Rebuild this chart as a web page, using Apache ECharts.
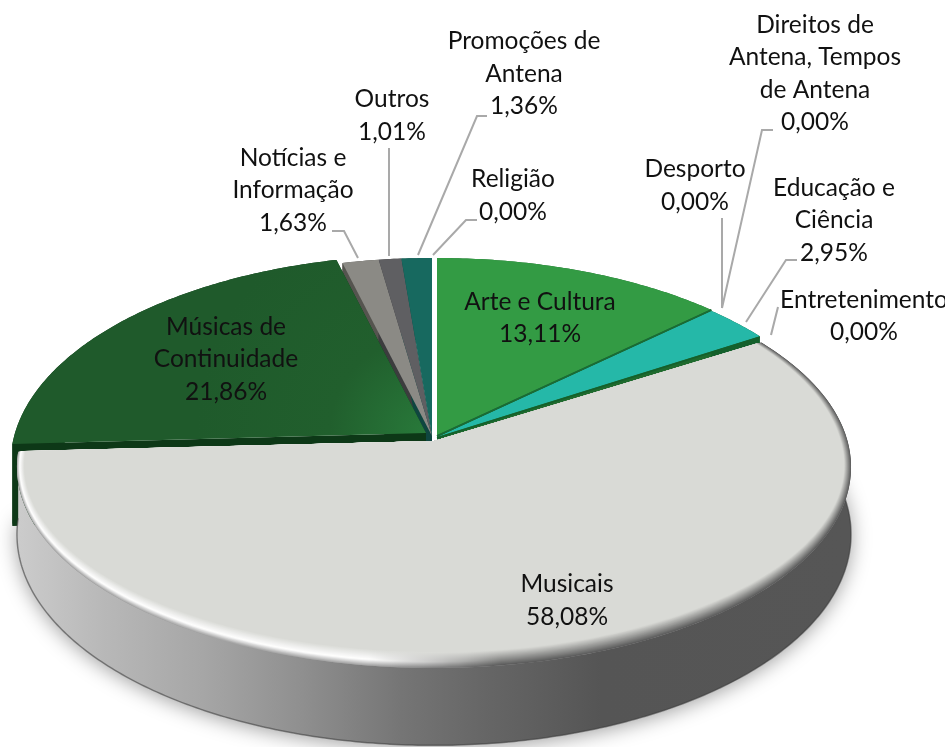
<!DOCTYPE html>
<html><head><meta charset="utf-8">
<style>html,body{margin:0;padding:0;background:#fff}#c{width:945px;height:747px}</style>
<script src="https://cdn.jsdelivr.net/npm/echarts@6/dist/echarts.min.js"></script>
</head><body><div id="c"></div>
<script>
const categories = ['Arte e Cultura','Desporto','Direitos de Antena, Tempos de Antena','Educação e Ciência','Entretenimento','Musicais','Músicas de Continuidade','Notícias e Informação','Outros','Promoções de Antena','Religião'];
const values = [13.11,0,0,2.95,0,58.08,21.86,1.63,1.01,1.36,0];
const labelNames = ['Arte e Cultura','Desporto','Direitos de\nAntena, Tempos\nde Antena','Educação e\nCiência','Entretenimento','Musicais','Músicas de\nContinuidade','Notícias e\nInformação','Outros','Promoções de\nAntena','Religião'];
const faceColors = ['#339b44','#1a6b35','#1a6b35','#25b8a8','#14602c','#d9dad6','#1f5a2b','#8b8a85','#5f5f62','#17695f','#ffffff'];
const sideColors = ['#1f6a2e','#1a6b35','#1a6b35','#14602c','#14602c','#8c8c8c','#0d3817','#55544f','#3c3c3e','#0f4640','#ffffff'];
const labelAnchors = [[540,318],[695,185.5],[815,73.5],[834,220.5],[864,316],[567,600.5],[226,359.5],[293,190.5],[392,115.5],[524,74],[513,195.5]];
const leaderPaths = [null,[[722,218],[722,308]],[[773,130],[762,130],[722,308]],[[797,260],[786,260],[746,322]],[[778,307],[771,335]],null,null,[[332,231],[344,231],[358,258]],[[389,148],[389,256]],[[487,116],[477,116],[418,255]],[[477,220],[466,220],[433,255]]];
const offsets = [[3,0],[3,0],[3,0],[3,1],[3,2],[0,0],[-8,-3],[-2,0],[-2,0],[-2,0],[0,0]];

const total = values.reduce((a,b)=>a+b,0);
const starts = []; values.reduce((acc,v,i)=>{starts[i]=acc;return acc+v;},0);
const MUS = values.indexOf(Math.max.apply(null,values));
const back = {x:434,y:436,R:411,a:204,k:0.146};
const front = {x:434,y:441,R:413.5,a:197.5,k:0.13};
const FONT = '24.5px Lato';
const theta = f => f/total*2*Math.PI;
function pt(s,t,r,dy,sa){r=r==null?1:r;dy=dy||0;sa=sa||1;const u=r*Math.sin(t),v=r*Math.cos(t),w=1+s.k*v;return [s.x+s.R*u/w,s.y+dy-s.a*sa*v/w];}
function arc(s,t0,t1,dy,sa){const n=Math.max(2,Math.ceil(Math.abs(t1-t0)/0.012)),o=[];for(let i=0;i<=n;i++)o.push(pt(s,t0+(t1-t0)*i/n,1,dy,sa));return o;}
function lerpC(a,b,t){const p=h=>[1,3,5].map(i=>parseInt(h.substr(i,2),16));const A=p(a),B=p(b);return 'rgb('+A.map((c,i)=>Math.round(c+(B[i]-c)*t)).join(',')+')';}
function bevelLeft(t){return t<0.35?lerpC('#a9a9a9','#ffffff',t/0.35):lerpC('#ffffff','#d9dad6',(t-0.35)/0.65);}
function bevelRight(t){return lerpC('#5c5c5c','#d9dad6',Math.min(1,t*1.05));}
function grad(stops){return {type:'linear',x:20,y:0,x2:850,y2:0,global:true,colorStops:stops};}

function renderSlice(params,api){
  const i=params.dataIndex, v=api.value(0), t0=theta(starts[i]), t1=theta(starts[i]+v), ch=[];
  if(i===MUS){
    const s=front, D=66, SB=1.05;
    const topA=arc(s,t0,t1), botA=arc(s,t1,t0,D,SB);
    ch.push({type:'polygon',z2:1,shape:{points:arc(s,t0+0.35,t1,D,SB)},style:{fill:'#999',shadowBlur:20,shadowColor:'rgba(0,0,0,0.38)',shadowOffsetY:3}});
    ch.push({type:'polygon',z2:10,shape:{points:topA.concat(botA)},style:{fill:grad([{offset:0,color:'#cbcbcb'},{offset:.1,color:'#b8b8b8'},{offset:.22,color:'#a6a6a6'},{offset:.34,color:'#8f8f8f'},{offset:.46,color:'#757575'},{offset:.56,color:'#666666'},{offset:.7,color:'#555555'},{offset:1,color:'#565656'}])}});
    ch.push({type:'polyline',z2:11,shape:{points:botA},style:{fill:null,stroke:'rgba(60,60,60,0.55)',lineWidth:1.5}});
    const N=16;
    for(let k=0;k<=N;k++){
      const q=k/N, pts=[[s.x,s.y]], n=200;
      for(let j=0;j<=n;j++){
        const a=t0+(t1-t0)*j/n, p=pt(s,a), c=Math.cos(a);
        p[0]=s.x+(p[0]-s.x)*(1-0.017*q);
        p[1]=p[1]-q*16*Math.max(0,-c)+q*2*Math.max(0,c);
        pts.push(p);
      }
      ch.push({type:'polygon',z2:12+k,shape:{points:pts},style:{fill:grad([{offset:0,color:bevelLeft(q)},{offset:.42,color:bevelLeft(q)},{offset:.58,color:bevelRight(q)},{offset:1,color:bevelRight(q)}])}});
    }
  } else {
    const s=Object.assign({},back,{x:back.x+offsets[i][0],y:back.y+offsets[i][1]}), D=82, apex=[s.x,s.y];
    if(v===0){
      const e=pt(s,t0);
      ch.push({type:'polyline',z2:i===values.length-1?6:5,shape:{points:[apex,e]},style:{fill:null,stroke:faceColors[i],lineWidth:i===values.length-1?4:1.5}});
    } else {
      const rim=arc(s,t0,t1), endP=rim[rim.length-1], startP=rim[0], zw=2+(v>5?1:0);
      ch.push({type:'polygon',z2:zw,shape:{points:rim.concat(arc(s,t1,t0,D))},style:{fill:sideColors[i]}});
      ch.push({type:'polygon',z2:zw,shape:{points:[apex,endP,[endP[0],endP[1]+D],[apex[0],apex[1]+D]]},style:{fill:sideColors[i]}});
      ch.push({type:'polygon',z2:zw,shape:{points:[apex,startP,[startP[0],startP[1]+D],[apex[0],apex[1]+D]]},style:{fill:sideColors[i]}});
      const f = faceColors[i]==='#1f5a2b' ? {type:'radial',x:s.x,y:s.y,r:230,global:true,colorStops:[{offset:0,color:'#28793a'},{offset:.42,color:'#215f2d'},{offset:1,color:'#1f5a2b'}]} : faceColors[i];
      ch.push({type:'polygon',z2:4,shape:{points:[apex].concat(rim)},style:{fill:f}});
    }
  }
  if(leaderPaths[i]) ch.push({type:'polyline',z2:60,shape:{points:leaderPaths[i]},style:{fill:null,stroke:'#a9a9a9',lineWidth:2}});
  const a=labelAnchors[i];
  ch.push({type:'text',z2:70,style:{x:a[0],y:a[1],text:labelNames[i]+'\n'+v.toFixed(2).replace('.',',')+'%',textAlign:'center',textVerticalAlign:'middle',font:FONT,lineHeight:32.5,fill:'#111111'}});
  return {type:'group',children:ch};
}
const chart=echarts.init(document.getElementById('c'),null,{renderer:'canvas'});
chart.setOption({animation:false,backgroundColor:'#ffffff',
  series:[{type:'custom',coordinateSystem:'none',renderItem:renderSlice,clip:false,silent:true,
    data:values.map((v,i)=>({name:categories[i],value:[v]}))}]});
</script></body></html>
